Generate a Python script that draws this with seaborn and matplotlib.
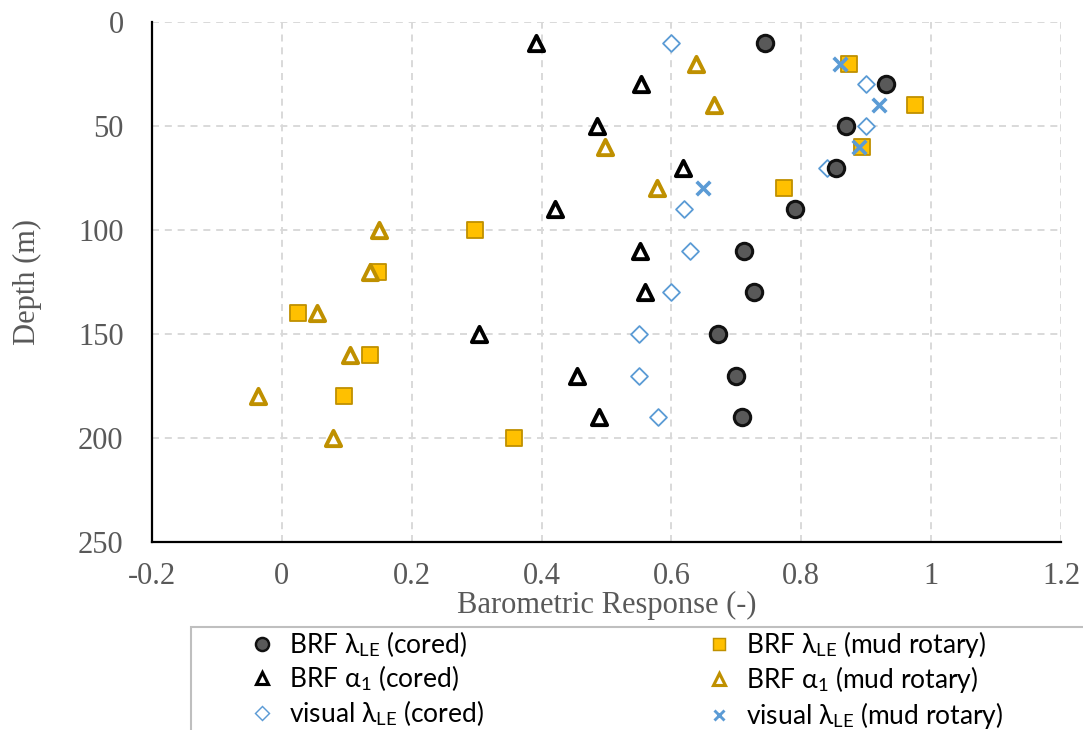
import matplotlib
matplotlib.use("Agg")
import matplotlib.pyplot as plt
from matplotlib.lines import Line2D
from matplotlib.patches import Rectangle
from matplotlib.ticker import MultipleLocator
import seaborn as sns

# ---- data -------------------------------------------------------------
depth_cored = [10, 30, 50, 70, 90, 110, 130, 150, 170, 190]
brf_lambda_cored = [0.744, 0.930, 0.869, 0.853, 0.790, 0.712, 0.727, 0.672, 0.699, 0.709]
brf_alpha_cored = [0.392, 0.553, 0.486, 0.618, 0.420, 0.552, 0.560, 0.304, 0.455, 0.488]
visual_lambda_cored = [0.600, 0.899, 0.899, 0.839, 0.619, 0.629, 0.600, 0.550, 0.550, 0.580]

depth_mud = [20, 40, 60, 80, 100, 120, 140, 160, 180, 200]
brf_lambda_mud = [0.874, 0.975, 0.893, 0.773, 0.298, 0.148, 0.025, 0.135, 0.096, 0.357]
brf_alpha_mud = [0.638, 0.666, 0.497, 0.578, 0.149, 0.135, 0.054, 0.105, -0.037, 0.079]
depth_visual_mud = [20, 40, 60, 80]
visual_lambda_mud = [0.859, 0.919, 0.889, 0.649]

x_ticks = [-0.2, 0, 0.2, 0.4, 0.6, 0.8, 1, 1.2]
x_tick_labels = ["-0.2", "0", "0.2", "0.4", "0.6", "0.8", "1", "1.2"]
y_ticks = [0, 50, 100, 150, 200, 250]

labels = {
    "lam_cored": "BRF λ$_{\\mathrm{LE}}$ (cored)",
    "lam_mud": "BRF λ$_{\\mathrm{LE}}$ (mud rotary)",
    "alp_cored": "BRF α$_{\\mathrm{1}}$ (cored)",
    "alp_mud": "BRF α$_{\\mathrm{1}}$ (mud rotary)",
    "vis_cored": "visual λ$_{\\mathrm{LE}}$ (cored)",
    "vis_mud": "visual λ$_{\\mathrm{LE}}$ (mud rotary)",
}

# ---- style ------------------------------------------------------------
sns.set_style("white")
plt.rcParams["font.family"] = ["Liberation Serif", "DejaVu Serif"]
plt.rcParams["mathtext.fontset"] = "custom"
plt.rcParams["mathtext.rm"] = "Lato"
plt.rcParams["mathtext.it"] = "Lato:italic"
plt.rcParams["mathtext.bf"] = "Lato:bold"

GRAY_TXT = "#595959"
DARK = "#595959"
GOLD = "#ffc000"
GOLD_EDGE = "#bf9000"
BLUE = "#5b9bd5"

styles = {
    "lam_cored": dict(marker="o", ms=11.8, mfc=DARK, mec="#111111", mew=2.2),
    "lam_mud": dict(marker="s", ms=11.5, mfc=GOLD, mec=GOLD_EDGE, mew=1.3),
    "alp_cored": dict(marker="^", ms=11.0, mfc="white", mec="black", mew=2.8),
    "alp_mud": dict(marker="^", ms=11.0, mfc="white", mec=GOLD_EDGE, mew=2.8),
    "vis_cored": dict(marker="D", ms=8.6, mfc="white", mec=BLUE, mew=1.3),
    "vis_mud": dict(marker="x", ms=9.8, mfc=BLUE, mec=BLUE, mew=2.6),
}

fig = plt.figure(figsize=(10.83, 7.30), dpi=100)
ax = fig.add_axes([0.1404, 0.2575, 0.8393, 0.7124])

# drawing order (bottom to top)
series = [
    ("vis_cored", visual_lambda_cored, depth_cored),
    ("lam_cored", brf_lambda_cored, depth_cored),
    ("lam_mud", brf_lambda_mud, depth_mud),
    ("alp_cored", brf_alpha_cored, depth_cored),
    ("alp_mud", brf_alpha_mud, depth_mud),
    ("vis_mud", visual_lambda_mud, depth_visual_mud),
]

for z, (key, xs, ys) in enumerate(series):
    st = styles[key]
    kw = dict(x=xs, y=ys, ax=ax, marker=st["marker"], s=st["ms"] ** 2,
              linewidth=st["mew"], zorder=3 + z, legend=False)
    if st["marker"] == "x":
        kw.update(color=st["mec"])
    else:
        kw.update(facecolor=st["mfc"], edgecolor=st["mec"])
    sns.scatterplot(**kw)

# ---- axes -------------------------------------------------------------
ax.set_xlim(-0.2, 1.2)
ax.set_ylim(250, 0)
ax.set_xticks(x_ticks)
ax.set_xticklabels(x_tick_labels)
ax.set_yticks(y_ticks)
ax.xaxis.set_minor_locator(MultipleLocator(0.04))
ax.yaxis.set_minor_locator(MultipleLocator(10))

for side in ("top", "right"):
    ax.spines[side].set_visible(False)
for side in ("left", "bottom"):
    ax.spines[side].set_color("black")
    ax.spines[side].set_linewidth(1.6)

ax.tick_params(which="major", direction="inout", length=13, width=1.6,
               color="black", labelsize=22, labelcolor=GRAY_TXT)
ax.tick_params(which="minor", direction="out", length=5.5, width=1.6, color="black")
ax.tick_params(axis="y", which="major", pad=14)
ax.tick_params(axis="x", which="major", pad=8)

ax.grid(True, which="major", color="#d9d9d9", linewidth=1.4,
        linestyle=(0, (3.6, 3.0)), zorder=0)
ax.set_axisbelow(True)

ax.set_xlabel("Barometric Response (-)", fontsize=22, color=GRAY_TXT, labelpad=0)
ax.set_ylabel("Depth (m)", fontsize=22, color=GRAY_TXT, labelpad=26)

# ---- legend -----------------------------------------------------------
LEG_SCALE = 0.8


def handle(key):
    st = styles[key]
    return Line2D([], [], linestyle="none", marker=st["marker"],
                  markersize=st["ms"] * LEG_SCALE,
                  markerfacecolor=st["mfc"], markeredgecolor=st["mec"],
                  markeredgewidth=st["mew"] * LEG_SCALE)


W, H = fig.get_size_inches() * fig.dpi
fig.add_artist(Rectangle((190.5 / W, -0.2), 1.0, 0.2 + 1 - 626.5 / H,
                         transform=fig.transFigure, fill=False,
                         edgecolor="#bfbfbf", linewidth=1.5, zorder=1))

leg_font = dict(family=["Lato", "DejaVu Sans"], size=19)
columns = [
    (["lam_cored", "alp_cored", "vis_cored"], 249),
    (["lam_mud", "alp_mud", "vis_mud"], 706),
]
for keys, x0 in columns:
    leg = fig.legend([handle(k) for k in keys], [labels[k] for k in keys],
                     loc="upper left", bbox_to_anchor=(x0 / W, 1 - 629 / H),
                     frameon=False, prop=leg_font, handlelength=1.0,
                     handletextpad=0.5, labelspacing=0.17, borderpad=0,
                     borderaxespad=0)
    for t in leg.get_texts():
        t.set_color("black")

fig.savefig("out.png", dpi=100)
